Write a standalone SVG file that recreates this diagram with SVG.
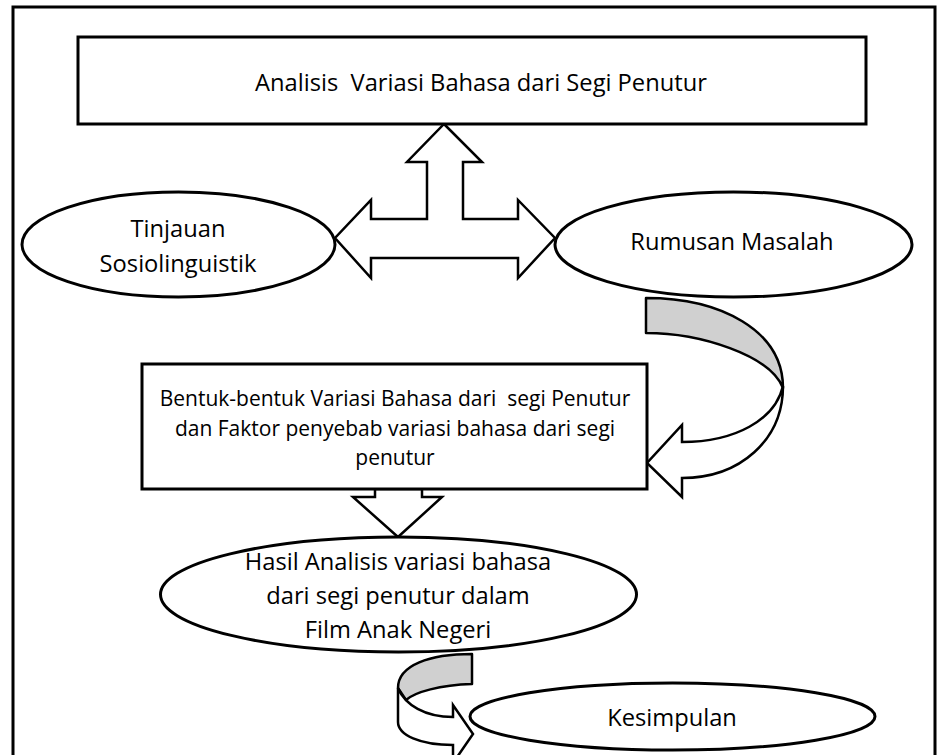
<svg xmlns="http://www.w3.org/2000/svg" width="948" height="755" viewBox="0 0 948 755">
<style>
.frame{fill:none;stroke:#000;stroke-width:3}
.node{fill:#fff;stroke:#000;stroke-width:3}
.arr{fill:#fff;stroke:#000;stroke-width:2.5;stroke-linejoin:miter}
.back{fill:#d0d0d0;stroke:#000;stroke-width:2.5;stroke-linejoin:round}
.t{font-family:"Open Sans","Noto Sans",sans-serif;font-size:23.7px;fill:#000;text-anchor:middle}
.s{font-size:21px}
</style>
<rect width="948" height="755" fill="#fff"/>
<path class="frame" d="M13,755 L13,7 L935,7 L935,755"/>
<g id="connectors">
<polygon class="arr" points="444,124 482,162 463,162 463,219 518,219 518,200 555,238 518,278 518,258 371,258 371,278 335,238 371,200 371,219 427,219 427,162 407,162"/>
<path class="back" d="M646,298 C720,298 783,330 783,388 C770,355 700,333 646,333 Z"/>
<path class="arr" d="M783,386 C783,440 740,478 682,478 L682,497 L647,463 L682,425 L682,442 C735,442 775,420 783,386 Z"/>
<polygon class="arr" points="375,489 422,489 422,497 442,497 398,537 353,497 375,497"/>
<path class="back" d="M472,654 L472,684 C440,685 415,692 406,700 L398,688 C398,665 430,654 472,654 Z"/>
<path class="arr" d="M398,688 L398,722 C398,735 420,745 453,745 L453,763 L473,734 L453,705 L453,717 C425,717 405,705 398,688 Z"/>
</g>
<g id="analisis">
<rect class="node" x="78" y="37" width="788" height="87"/>
<text class="t" x="481" y="91" xml:space="preserve">Analisis  Variasi Bahasa dari Segi Penutur</text>
</g>
<g id="tinjauan">
<ellipse class="node" cx="178.5" cy="244.5" rx="156.5" ry="52.5"/>
<text class="t" x="178" y="237">Tinjauan</text>
<text class="t" x="178" y="272">Sosiolinguistik</text>
</g>
<g id="rumusan">
<ellipse class="node" cx="733.5" cy="244.5" rx="178.5" ry="52.5"/>
<text class="t" x="732" y="250">Rumusan Masalah</text>
</g>
<g id="bentuk">
<rect class="node" x="142" y="364" width="505" height="125"/>
<text class="t s" x="395" y="406" xml:space="preserve">Bentuk-bentuk Variasi Bahasa dari  segi Penutur</text>
<text class="t s" x="395" y="436">dan Faktor penyebab variasi bahasa dari segi</text>
<text class="t s" x="395" y="465">penutur</text>
</g>
<g id="hasil">
<ellipse class="node" cx="398.5" cy="594.5" rx="238" ry="57.5"/>
<text class="t" x="398" y="570">Hasil Analisis variasi bahasa</text>
<text class="t" x="398" y="604">dari segi penutur dalam</text>
<text class="t" x="398" y="638">Film Anak Negeri</text>
</g>
<g id="kesimpulan">
<ellipse class="node" cx="672.5" cy="716.5" rx="202.5" ry="33.5"/>
<text class="t" x="672" y="726">Kesimpulan</text>
</g>
</svg>
